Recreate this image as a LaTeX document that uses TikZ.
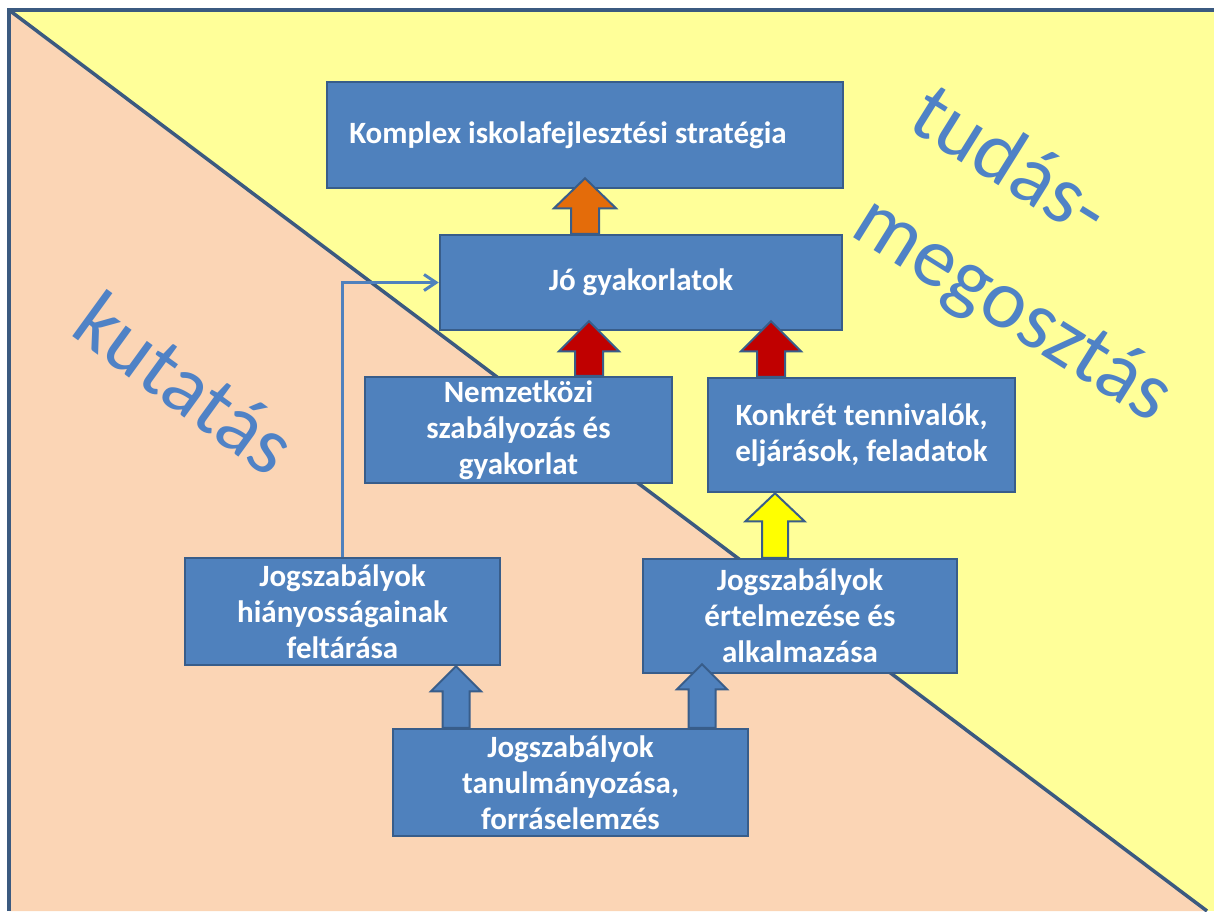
\documentclass[tikz,border=0pt]{standalone}
\usepackage{fontspec}
\setmainfont{Carlito}
\usetikzlibrary{calc,arrows.meta}
\definecolor{peach}{HTML}{FBD5B5}
\definecolor{lemon}{HTML}{FFFF99}
\definecolor{frameblue}{HTML}{3B5A80}
\definecolor{boxblue}{HTML}{4F81BD}
\definecolor{boxline}{HTML}{385D8A}
\definecolor{bigblue}{HTML}{4F82C6}
\definecolor{arrorange}{HTML}{E46C0A}
\definecolor{arrred}{HTML}{C00000}
\definecolor{arryellow}{HTML}{FFFF00}
\tikzset{
  stepbox/.style={draw=boxline, fill=boxblue, line width=2.5pt, text=white,
    font=\bfseries\fontsize{31}{36}\selectfont, align=center, inner sep=0pt},
  blockarrow/.style={draw=boxline, line width=2pt, line join=miter},
  bigword/.style={text=bigblue, font=\fontsize{84}{86}\selectfont, inner sep=0pt},
  thinconn/.style={draw=boxblue, line width=3pt, -{Straight Barb[length=12pt,width=16pt]}},
  divline/.style={draw=frameblue, line width=3.5pt}
}
\newcommand{\blockup}[8]{%
  \coordinate (ba) at (#2,0 |- #3.north);
  \coordinate (tp) at ($(#2,0 |- #4.south)+(0,-#5)$);
  \filldraw[blockarrow,fill=#1] ($(ba)+(-#8,0)$) -- ($(tp)+(-#8,#6)$) -- ($(tp)+(-#7,#6)$) -- (tp)
    -- ($(tp)+(#7,#6)$) -- ($(tp)+(#8,#6)$) -- ($(ba)+(#8,0)$) -- cycle;
}
\begin{document}
\begin{tikzpicture}[x=1pt,y=-1pt]
\useasboundingbox (0,0) rectangle (1214,911);
% background
\fill[white] (0,0) rectangle (1214,911);
\fill[lemon] (9,10) rectangle (1214,911);
\fill[peach] (9,10) -- (1207,911) -- (9,911) -- cycle;
\draw[divline] (9,911) -- (9,10) -- (1214,10);
\draw[divline] (9,10) -- (1207,911);
% big words
\node[bigword, rotate=-36] (kutatas) at (186,383) {kutatás};
\node[bigword, rotate=-32] (tudas) at (1012,160) {tudás-};
\node[bigword, rotate=-32] (megoszt) at (1012,311) {megosztás};
% boxes
\node[stepbox, minimum width=516, minimum height=106] (komplex) at (585,135) {\hspace*{-34pt}Komplex iskolafejlesztési stratégia};
\node[stepbox, minimum width=402, minimum height=95] (jo) at (641,282.5) {Jó gyakorlatok};
\node[stepbox, minimum width=307, minimum height=106] (nemzet) at (518.5,430) {Nemzetközi\\szabályozás és\\gyakorlat};
\node[stepbox, minimum width=307, minimum height=114] (konkret) at (861.5,435) {Konkrét tennivalók,\\eljárások, feladatok};
\node[stepbox, minimum width=315, minimum height=107] (hiany) at (342.5,611.5) {Jogszabályok\\hiányosságainak\\feltárása};
\node[stepbox, minimum width=314, minimum height=114] (ertel) at (800,616) {Jogszabályok\\értelmezése és\\alkalmazása};
\node[stepbox, minimum width=355, minimum height=107] (tanul) at (570.5,782.5) {Jogszabályok\\tanulmányozása,\\forráselemzés};
% thin connector
\draw[thinconn] (hiany.north) |- (jo.west);
% block arrows
\blockup{arrorange}{585}{jo}{komplex}{11}{30}{31}{14}
\blockup{arrred}{589}{nemzet}{jo}{10}{30}{30}{14}
\blockup{arrred}{771}{konkret}{jo}{10}{30}{30}{14}
\blockup{arryellow}{775}{ertel}{konkret}{0}{28}{29.5}{13}
\blockup{boxblue}{456}{tanul}{hiany}{0}{25}{25}{13.5}
\blockup{boxblue}{702}{tanul}{ertel}{10}{25}{25}{13.5}
\end{tikzpicture}
\end{document}
